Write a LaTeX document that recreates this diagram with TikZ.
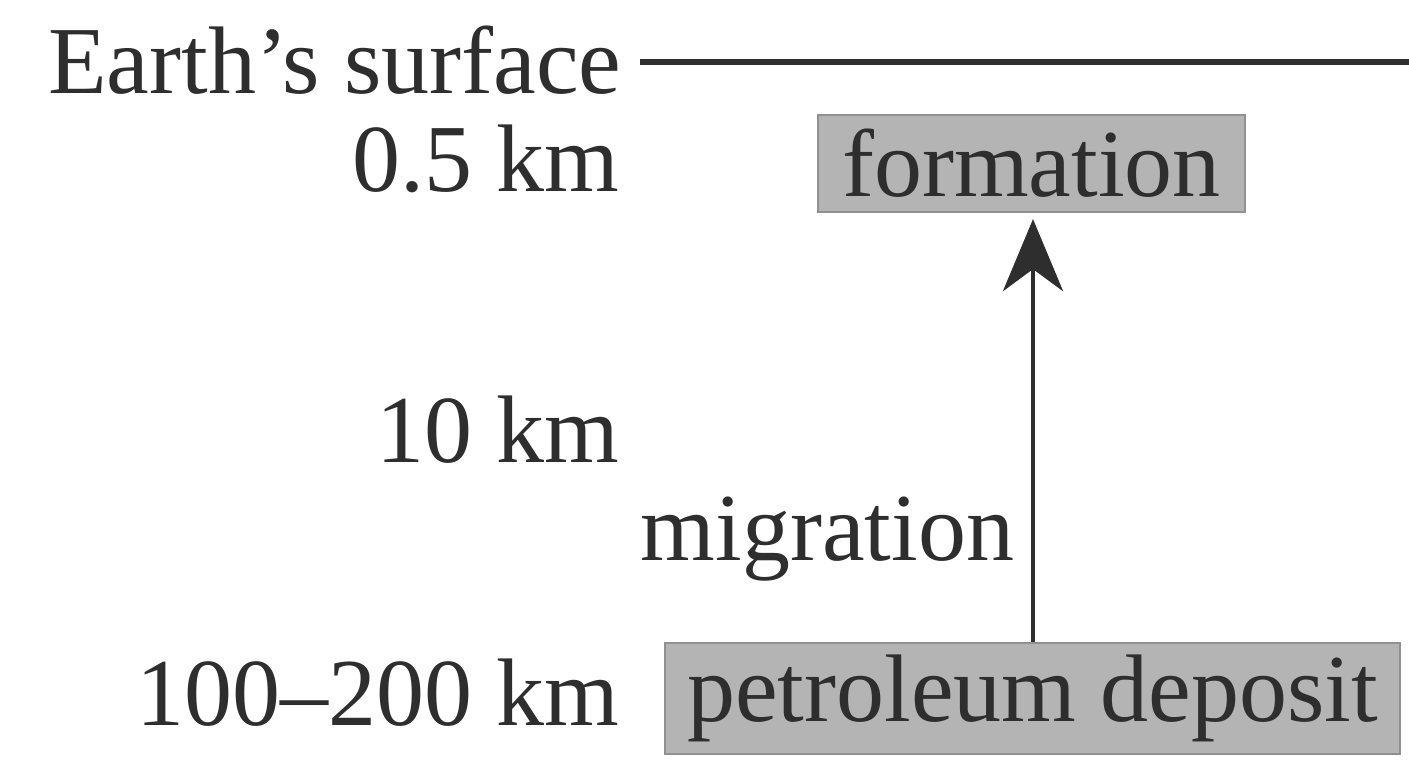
\documentclass[tikz,border=0pt]{standalone}
\usepackage{fontspec}
\setmainfont{Liberation Serif}
\usetikzlibrary{arrows.meta}
\definecolor{ink}{HTML}{2E2E2E}
\definecolor{boxgray}{HTML}{B4B4B4}
\tikzset{
  lbl/.style={font=\fontsize{27.3}{31}\selectfont, text=ink, inner sep=0pt},
  depth/.style={lbl, anchor=base east},
  grbox/.style={draw=boxgray!80!black, line width=0.6pt, fill=boxgray, inner sep=0pt, font=\fontsize{27.3}{31}\selectfont, text=ink},
  conn/.style={draw=ink, line width=1.4pt},
}
\begin{document}
\begin{tikzpicture}[x=0.01cm,y=-0.01cm]
\useasboundingbox[fill=white] (0,0) rectangle (1409,776);
% Earth's surface
\node[lbl, anchor=base east] (es) at (622,94) {Earth’s surface};
\coordinate (sl) at (640,62);
\coordinate (sr) at (1409,62);
\draw[conn, line width=1.8pt] (sl) -- (sr);
% depth labels
\node[depth] (d1) at (620,192) {0.5 km};
\node[depth] (d2) at (620,462) {10 km};
\node[depth] (d3) at (620,725) {100–200 km};
% boxes
\node[grbox, minimum width=4.27cm, minimum height=0.97cm] (form) at (1031.5,163.5) {formation};
\node[grbox, minimum width=7.35cm, minimum height=1.11cm] (pet) at (1032.5,698.5) {petroleum deposit};
% migration
\node[lbl, anchor=base west] (mig) at (640,560) {migration};
% arrow
\draw[conn, -{Stealth[length=0.72cm, width=0.6cm, inset=0.22cm]}] (pet.north -| 1033,0) -- ([yshift=-0.06cm] form.south -| 1033,0);
\end{tikzpicture}
\end{document}
